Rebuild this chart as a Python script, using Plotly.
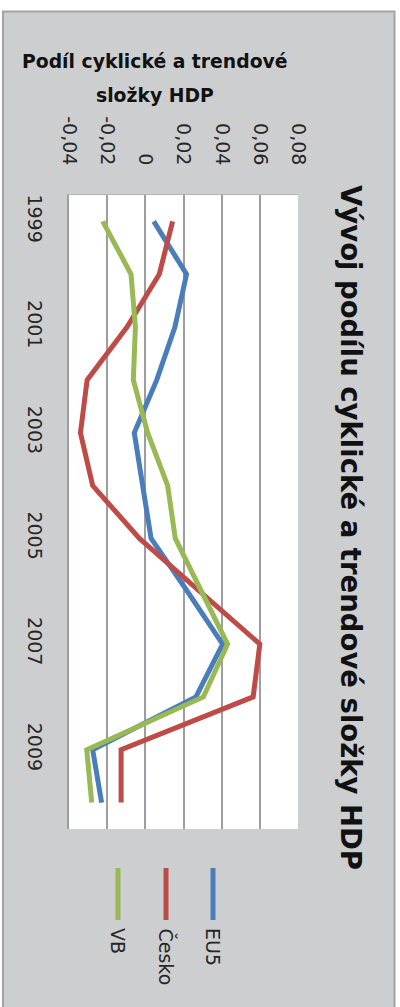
import plotly.graph_objects as go

years = [str(y) for y in range(1999, 2011)]
eu5 = [0.0044, 0.0216, 0.0155, 0.006, -0.0058, -0.0015, 0.003, 0.022, 0.0405, 0.0265, -0.0276, -0.0229]
cesko = [0.0143, 0.0073, -0.0096, -0.0305, -0.034, -0.0276, -0.0031, 0.0286, 0.060, 0.0565, -0.0127, -0.0127]
vb = [-0.0223, -0.0075, -0.0052, -0.0063, 0.0012, 0.0117, 0.0157, 0.0295, 0.0431, 0.0304, -0.0307, -0.0281]

series_names = ["EU5", "Česko", "VB"]
series_values = [eu5, cesko, vb]
series_colors = ["#4A7EBB", "#BE4B48", "#98B954"]

value_ticks = [-0.04, -0.02, 0, 0.02, 0.04, 0.06, 0.08]
value_tick_labels = ["-0,04", "-0,02", "0", "0,02", "0,04", "0,06", "0,08"]
year_ticks = ["1999", "2001", "2003", "2005", "2007", "2009"]

title_text = "Vývoj podílu cyklické a trendové složky HDP"
axis_title_lines = ["Podíl cyklické a trendové", "složky HDP"]

W, H = 400, 1007
L, R, T, B = 69, 298, 195, 829  # plot area in pixels
pw, ph = R - L, B - T


def px(x):
    return (x - L) / pw


def py(y):
    return (B - y) / ph


FONT = "DejaVu Sans"
TXT = "#262626"

fig = go.Figure()
for name, vals, col in zip(series_names, series_values, series_colors):
    fig.add_trace(go.Scatter(
        x=vals, y=years, mode="lines", name=name,
        line=dict(color=col, width=5),
        showlegend=False, hoverinfo="skip",
    ))

shapes = [
    dict(type="rect", xref="paper", yref="paper", layer="below",
         x0=px(3), x1=px(394.5), y0=py(1012), y1=py(11.5),
         fillcolor="#CDCED0", line=dict(color="#A3A3A6", width=2)),
    dict(type="rect", xref="paper", yref="paper", layer="below",
         x0=0, x1=1, y0=0, y1=1,
         fillcolor="white", line=dict(width=0)),
]
annotations = []
legend_x = {"EU5": 213, "Česko": 166, "VB": 118}
for name, col in zip(series_names, series_colors):
    xx = px(legend_x[name])
    shapes.append(dict(type="line", xref="paper", yref="paper",
                       x0=xx, x1=xx, y0=py(868), y1=py(920),
                       line=dict(color=col, width=5)))
    annotations.append(dict(xref="paper", yref="paper", x=xx, y=py(926),
                            xanchor="center", yanchor="top", showarrow=False,
                            text=name, textangle=90,
                            font=dict(family=FONT, size=19, color=TXT)))

annotations.append(dict(xref="paper", yref="paper", x=px(351), y=py(527),
                        xanchor="center", yanchor="middle", showarrow=False,
                        text="<b>" + title_text + "</b>", textangle=90,
                        font=dict(family=FONT, size=27.5, color="#111111")))
annotations.append(dict(xref="paper", yref="paper", x=px(155), y=py(62),
                        xanchor="center", yanchor="middle", showarrow=False,
                        text="<b>" + axis_title_lines[0] + "</b>",
                        font=dict(family=FONT, size=18.8, color="#111111")))
annotations.append(dict(xref="paper", yref="paper", x=px(155), y=py(95),
                        xanchor="center", yanchor="middle", showarrow=False,
                        text="<b>" + axis_title_lines[1] + "</b>",
                        font=dict(family=FONT, size=18.8, color="#111111")))

fig.update_layout(
    width=W, height=H,
    margin=dict(l=L, r=W - R, t=T, b=H - B, pad=0),
    paper_bgcolor="white", plot_bgcolor="white",
    shapes=shapes, annotations=annotations,
    xaxis=dict(
        side="top", range=[-0.04, 0.08], tickvals=value_ticks,
        ticktext=value_tick_labels, tickangle=90,
        tickfont=dict(family=FONT, size=19, color=TXT),
        showgrid=True, gridcolor="#9E9EA2", gridwidth=1.6,
        zeroline=False, showline=True, linecolor="#B5B5B8", linewidth=1,
        ticks="outside", ticklen=22, tickcolor="rgba(0,0,0,0)",
        fixedrange=True, automargin=False,
    ),
    yaxis=dict(
        type="category", categoryorder="array", categoryarray=years,
        range=[11.5, -0.5], tickvals=year_ticks, ticktext=year_ticks,
        tickangle=90, tickfont=dict(family=FONT, size=19, color=TXT),
        showgrid=False, zeroline=False, showline=True,
        linecolor="#9E9EA2", linewidth=2,
        ticks="outside", ticklen=16, tickcolor="rgba(0,0,0,0)",
        fixedrange=True, automargin=False,
    ),
    showlegend=False,
)

fig.write_html("out.html")
